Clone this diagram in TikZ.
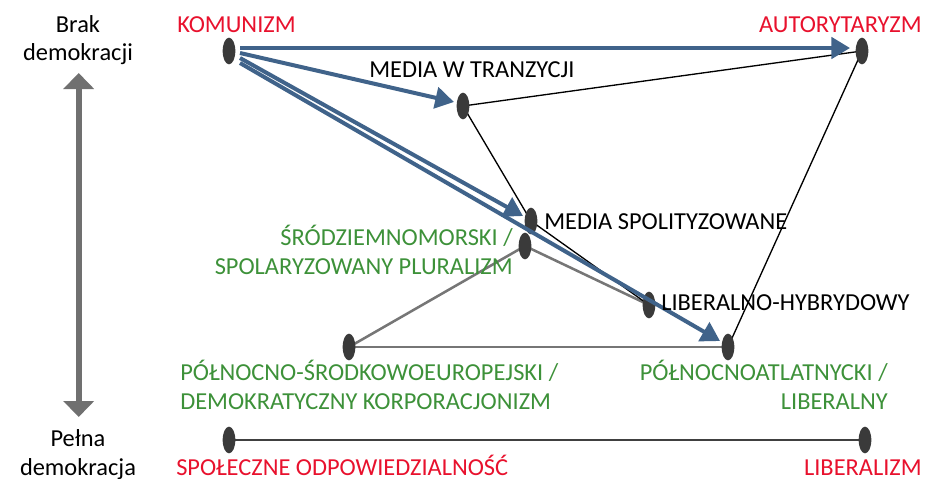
\documentclass[tikz,border=0pt]{standalone}
\usepackage{fontspec}
\setmainfont{Carlito}
\usetikzlibrary{shapes.geometric,arrows.meta,calc,backgrounds}
\definecolor{redt}{RGB}{232,17,45}
\definecolor{greent}{RGB}{61,145,57}
\definecolor{bluea}{RGB}{64,99,138}
\definecolor{dotc}{RGB}{58,58,58}
\definecolor{grayl}{RGB}{118,118,118}
\definecolor{axisc}{RGB}{112,112,112}
\definecolor{botc}{RGB}{64,64,64}
\begin{document}
\begin{tikzpicture}[x=0.75pt,y=-0.75pt,
  pnt/.style={ellipse,fill=dotc,draw=none,minimum width=9.5pt,minimum height=20pt,inner sep=0pt},
  lbl/.style={inner sep=0pt,font=\fontsize{18.3}{21}\selectfont},
  redlbl/.style={lbl,text=redt},
  greenlbl/.style={lbl,text=greent},
  flow/.style={draw=bluea,line width=3pt,-{Triangle[length=14pt,width=16pt]}},
  gryline/.style={draw=grayl,line width=1.9pt},
  blkline/.style={draw=black,line width=1pt},
  botline/.style={draw=botc,line width=1.5pt},
  axisarrow/.style={draw=axisc,line width=4.5pt,{Triangle[length=12pt,width=22.5pt]}-{Triangle[length=12pt,width=22.5pt]}}
]
\useasboundingbox (0,0) rectangle (926,479);

% points
\node[pnt] (kom) at (229,51) {};
\node[pnt] (aut) at (862,51) {};
\node[pnt] (mwt) at (463,106) {};
\node[pnt] (msp) at (531,221) {};
\node[pnt] (srd) at (525,246) {};
\node[pnt] (lhy) at (649,305) {};
\node[pnt] (pse) at (349,347) {};
\node[pnt] (pna) at (728,347) {};
\node[pnt] (soc) at (229,440) {};
\node[pnt] (lbz) at (865,440) {};

% thin connectors under the points
\begin{scope}[on background layer]
\draw[gryline] (pse.center) -- (srd.center) -- (lhy.center);
\draw[gryline] (pse.center) -- (pna.center);
\draw[blkline] (mwt.center) -- (aut.center);
\draw[blkline] (mwt.center) -- (msp.center) -- (lhy.center);
\draw[blkline] (aut.center) -- (pna.center);
\draw[botline] (soc.center) -- (lbz.center);
\end{scope}

% blue flows
\draw[flow] ($(kom.center)+(11,-3)$) -- ($(aut.center)+(-12,-3)$);
\draw[flow] ($(kom.center)+(11,2)$) -- ($(mwt.center)+(-9,-4)$);
\draw[flow] ($(kom.center)+(11,7)$) -- ($(msp.center)+(-8,-5)$);
\draw[flow] ($(kom.center)+(11,12)$) -- ($(pna.center)+(-8,-6)$);

% axis
\coordinate (atop) at (78.7,73);
\coordinate (abot) at (78.7,417);
\draw[axisarrow] (atop) -- (abot);

% labels
\node[lbl,anchor=base] (tbrak) at (78,32) {Brak};
\node[lbl,anchor=base] (tdem) at (78,60) {demokracji};
\node[lbl,anchor=base] (tpel) at (78,446) {Pełna};
\node[lbl,anchor=base] (tdem2) at (78,475) {demokracja};
\node[redlbl,anchor=base west] (tkom) at (177,32) {KOMUNIZM};
\node[redlbl,anchor=base east] (taut) at (922,32) {AUTORYTARYZM};
\node[lbl,anchor=base west] (tmwt) at (369,77) {MEDIA W TRANZYCJI};
\node[lbl,anchor=base west] (tmsp) at (544,229) {MEDIA SPOLITYZOWANE};
\node[greenlbl,anchor=base east] (tsrd1) at (513,245) {ŚRÓDZIEMNOMORSKI /};
\node[greenlbl,anchor=base east] (tsrd2) at (513,274) {SPOLARYZOWANY PLURALIZM};
\node[lbl,anchor=base west] (tlhy) at (661,310) {LIBERALNO-HYBRYDOWY};
\node[greenlbl,anchor=base west] (tpse1) at (180,380) {PÓŁNOCNO-ŚRODKOWOEUROPEJSKI /};
\node[greenlbl,anchor=base west] (tpse2) at (180,409) {DEMOKRATYCZNY KORPORACJONIZM};
\node[greenlbl,anchor=base east] (tpna1) at (888,380) {PÓŁNOCNOATLATNYCKI /};
\node[greenlbl,anchor=base east] (tpna2) at (888,409) {LIBERALNY};
\node[redlbl,anchor=base west] (tsoc) at (176,475) {SPOŁECZNE ODPOWIEDZIALNOŚĆ};
\node[redlbl,anchor=base east] (tlbz) at (922,475) {LIBERALIZM};
\end{tikzpicture}
\end{document}
